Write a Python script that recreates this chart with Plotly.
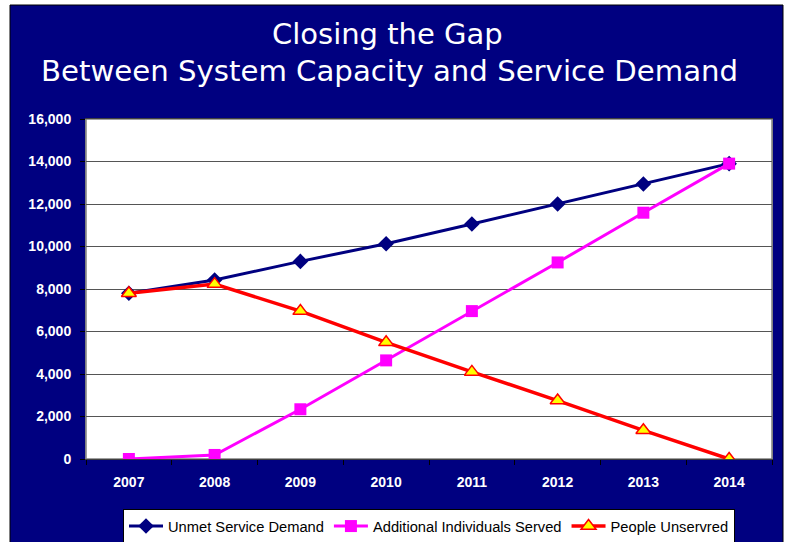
import plotly.graph_objects as go

# ---- data ----
years = ["2007", "2008", "2009", "2010", "2011", "2012", "2013", "2014"]
unmet_demand = [7800, 8420, 9300, 10130, 11060, 12000, 12940, 13900]
additional_served = [0, 190, 2340, 4640, 6960, 9250, 11590, 13900]
people_unserved = [7800, 8230, 6960, 5490, 4100, 2750, 1350, 0]
y_tick_values = [0, 2000, 4000, 6000, 8000, 10000, 12000, 14000, 16000]
y_tick_labels = ["0", "2,000", "4,000", "6,000", "8,000", "10,000", "12,000", "14,000", "16,000"]

# ---- layout geometry ----
W, H = 785, 542
L, R, T, B = 86, 13, 119, 83
PW, PH = W - L - R, H - T - B


def px_x(px):
    return (px - L) / PW


def px_y(py):
    return (H - B - py) / PH


NAVY = "#000080"

fig = go.Figure()

fig.add_trace(go.Scatter(
    x=years, y=unmet_demand, name="Unmet Service Demand",
    mode="lines+markers",
    line=dict(color=NAVY, width=3),
    marker=dict(symbol="diamond", size=12, color=NAVY, line=dict(width=0)),
))
fig.add_trace(go.Scatter(
    x=years, y=additional_served, name="Additional Individuals Served",
    mode="lines+markers",
    line=dict(color="#FF00FF", width=3),
    marker=dict(symbol="square", size=12, color="#FF00FF", line=dict(width=0)),
))
fig.add_trace(go.Scatter(
    x=years, y=people_unserved, name="People Unservred",
    mode="lines+markers",
    line=dict(color="#FF0000", width=3.5),
    marker=dict(symbol="triangle-up", size=13, color="#FFFF00",
                line=dict(color="#FF0000", width=1.5)),
))

shapes = [
    # navy chart background
    dict(type="rect", xref="paper", yref="paper", layer="below",
         x0=px_x(10), x1=px_x(783), y0=px_y(560), y1=px_y(5),
         fillcolor=NAVY, line=dict(color="#000000", width=1)),
    # white plot area
    dict(type="rect", xref="paper", yref="paper", layer="below",
         x0=0, x1=1, y0=0, y1=1,
         fillcolor="#FFFFFF", line=dict(color="#808080", width=1.5)),
]

annotations = [
    dict(text="Closing the Gap", xref="paper", yref="paper",
         x=px_x(387), y=px_y(34), xanchor="center", yanchor="middle",
         showarrow=False, font=dict(family="DejaVu Sans", size=29, color="#FFFFFF")),
    dict(text="Between System Capacity and Service Demand", xref="paper", yref="paper",
         x=px_x(389), y=px_y(71), xanchor="center", yanchor="middle",
         showarrow=False, font=dict(family="DejaVu Sans", size=29.2, color="#FFFFFF")),
]

fig.update_layout(
    width=W, height=H,
    margin=dict(l=L, r=R, t=T, b=B, autoexpand=False),
    paper_bgcolor="#FFFFFF",
    plot_bgcolor="rgba(0,0,0,0)",
    shapes=shapes,
    annotations=annotations,
    showlegend=True,
    legend=dict(
        orientation="h", x=0.5, xanchor="center", y=px_y(509), yanchor="top",
        bgcolor="#FFFFFF", bordercolor="#000000", borderwidth=1,
        font=dict(family="Liberation Sans, Arial, sans-serif", size=14.7, color="#000000"),
        itemwidth=34, tracegroupgap=0,
    ),
    xaxis=dict(
        type="category", range=[-0.5, len(years) - 0.5],
        showgrid=False, zeroline=False,
        showline=True, linecolor="#404040", linewidth=1, mirror=True,
        ticks="outside", tickson="boundaries", ticklen=5, tickcolor="#000000",
        tickfont=dict(family="Liberation Sans, Arial, sans-serif", size=14, color="#FFFFFF",
                      weight="bold"),
        ticklabelstandoff=10,
        fixedrange=True,
    ),
    yaxis=dict(
        range=[0, 16000],
        tickvals=y_tick_values, ticktext=y_tick_labels,
        showgrid=True, gridcolor="#555555", gridwidth=1,
        zeroline=False,
        showline=True, linecolor="#808080", linewidth=1, mirror=True,
        ticks="outside", ticklen=5, tickcolor="#000000",
        tickfont=dict(family="Liberation Sans, Arial, sans-serif", size=14, color="#FFFFFF",
                      weight="bold"),
        ticklabelstandoff=6,
        fixedrange=True,
    ),
)

fig.write_html(
    "out.html",
    config={"displayModeBar": False},
    post_script="document.body.style.margin='0';document.body.style.overflow='hidden';",
)
